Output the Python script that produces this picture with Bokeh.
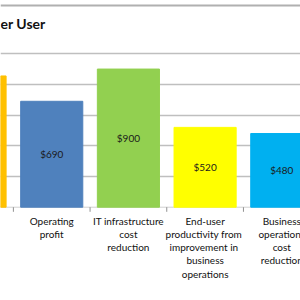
from bokeh.plotting import figure
from bokeh.models import Range1d, ColumnDataSource, Span, FixedTicker
from bokeh.core.properties import value
from bokeh.embed import file_html
from bokeh.resources import INLINE

# Data
categories = ["", "Operating\nprofit", "IT infrastructure\ncost\nreduction",
              "End-user\nproductivity  from\nimprovement  in\nbusiness\noperations",
              "Business\noperations\ncost\nreduction"]
values = [855, 690, 900, 520, 480]
value_labels = ["", "$690", "$900", "$520", "$480"]
colors = ["#FFC000", "#4F81BD", "#92D050", "#FFFF00", "#00B0F0"]
grid_ticks = [200, 400, 600, 800, 1000]
title_text = "er User"

xs = list(range(len(values)))
src = ColumnDataSource(dict(x=xs, top=values, mid=[v / 2 for v in values],
                            vlab=value_labels, cat=categories, color=colors))

p = figure(width=300, height=300, output_backend="svg", toolbar_location=None,
           x_range=Range1d(0.332, 4.244), y_range=Range1d(-607.8, 1346.6),
           min_border=0, min_border_left=0, min_border_right=0,
           min_border_top=0, min_border_bottom=0)
p.axis.visible = False
p.outline_line_color = None
p.xgrid.visible = False
p.ygrid.ticker = FixedTicker(ticks=grid_ticks)
p.ygrid.grid_line_color = "#BFBFBF"
p.ygrid.grid_line_width = 1.5
p.background_fill_color = "white"

# chart top border
p.add_layout(Span(location=1314, dimension="width", line_color="#B0B0B0", line_width=2))

# baseline and ticks
p.segment(x0=[xs[0] - 0.5], y0=[0], x1=[xs[-1] + 0.5], y1=[0], line_color="#D0D0D0", line_width=1)
bx = [i + 0.5 for i in xs]
p.segment(x0=bx, y0=[0] * len(bx), x1=bx, y1=[-30] * len(bx), line_color="#909090", line_width=1)

p.vbar(x="x", top="top", bottom=0, width=0.81, color="color", source=src)

p.text(x="x", y="mid", text="vlab", source=src, text_align="center", text_baseline="middle",
       text_font=value("Lato"), text_font_size="10px", text_color="#1a1a1a")

p.text(x="x", y=-50, text="cat", source=src, text_align="center", text_baseline="top",
       text_font=value("Lato"), text_font_size="10px", text_color="#111111",
       text_line_height=1.1)

p.text(x=[0.332], y=[1195], text=[title_text], text_align="left", text_baseline="middle",
       text_font=value("Lato"), text_font_style="bold", text_font_size="14px", text_color="#111111")

open("out.html", "w").write(file_html(p, INLINE))
